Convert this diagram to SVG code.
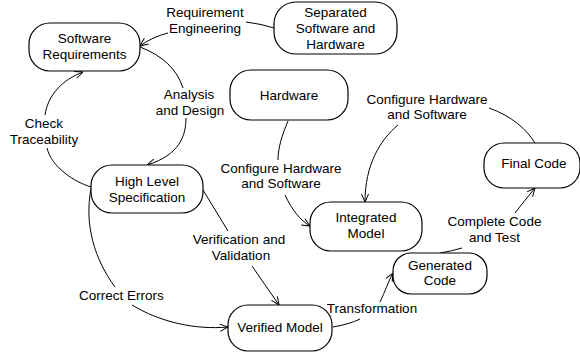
<svg xmlns="http://www.w3.org/2000/svg" width="580" height="353" viewBox="0 0 580 353">
  <style>
    .box { fill: #fff; stroke: #000; stroke-width: 1.2; }
    .lbl { font-family: "Liberation Sans", Arial, sans-serif; font-size: 13.5px; fill: #000; text-anchor: middle; }
    .edge { fill: none; stroke: #000; stroke-width: 1; }
    .arr { marker-end: url(#vhead); }
  </style>
  <defs>
    <marker id="vhead" viewBox="0 0 10 10" refX="10" refY="5" markerUnits="userSpaceOnUse" markerWidth="9" markerHeight="9" orient="auto">
      <path d="M1,1 L10,5 L1,9" fill="none" stroke="#000" stroke-width="1.1"/>
    </marker>
  </defs>
  <rect width="580" height="353" fill="#fff"/>

  <g id="connectors">
    <!-- Requirement Engineering -->
    <path class="edge" d="M274,28 Q262,24 246,22"/>
    <path class="edge arr" d="M168,33 Q152,37 140,46"/>
    <!-- Analysis and Design -->
    <path class="edge" d="M140,47 Q174,60 183,88"/>
    <path class="edge arr" d="M186,118 C186,135 180,155 147,165"/>
    <!-- Check Traceability -->
    <path class="edge" d="M91,187 C75,182 52,168 47,148"/>
    <path class="edge arr" d="M45,115 C48,95 62,80 83,72"/>
    <!-- Configure Hardware and Software (from Hardware) -->
    <path class="edge" d="M288,121 C282,135 278,148 278,160"/>
    <path class="edge arr" d="M285,195 C292,210 300,220 310,226"/>
    <!-- Configure Hardware and Software (from Final Code) -->
    <path class="edge" d="M535,143 C527,130 512,116 489,108"/>
    <path class="edge arr" d="M398,125 C380,140 365,165 365,202"/>
    <!-- Verification and Validation -->
    <path class="edge" d="M203,190 L228,231"/>
    <path class="edge arr" d="M252,266 L279,305"/>
    <!-- Correct Errors -->
    <path class="edge" d="M91,189 C84,225 95,260 115,287"/>
    <path class="edge arr" d="M132,305 C160,322 195,330 228,327"/>
    <!-- Transformation -->
    <path class="edge" d="M333,327 Q350,324 360,319"/>
    <path class="edge arr" d="M380,302 C385,292 388,282 393,273"/>
    <!-- Complete Code and Test -->
    <path class="edge" d="M440,253 Q452,251 462,248"/>
    <path class="edge arr" d="M515,213 Q525,200 535,188"/>
  </g>

  <g id="edge-labels">
    <text class="lbl" x="205" y="17">Requirement</text>
    <text class="lbl" x="205" y="33">Engineering</text>
    <text class="lbl" x="189" y="99">Analysis</text>
    <text class="lbl" x="190" y="115">and Design</text>
    <text class="lbl" x="44" y="128">Check</text>
    <text class="lbl" x="44" y="144">Traceability</text>
    <text class="lbl" x="281" y="173">Configure Hardware</text>
    <text class="lbl" x="281" y="188">and Software</text>
    <text class="lbl" x="427" y="104">Configure Hardware</text>
    <text class="lbl" x="427" y="119">and Software</text>
    <text class="lbl" x="239" y="244">Verification and</text>
    <text class="lbl" x="241" y="260">Validation</text>
    <text class="lbl" x="121.5" y="300">Correct Errors</text>
    <text class="lbl" x="372" y="313">Transformation</text>
    <text class="lbl" x="494.5" y="226">Complete Code</text>
    <text class="lbl" x="494.5" y="242">and Test</text>
  </g>

  <g id="software-requirements">
    <rect class="box" x="29" y="23" width="111" height="48" rx="21" ry="21"/>
    <text class="lbl" x="84.5" y="42.5">Software</text>
    <text class="lbl" x="84.5" y="58.5">Requirements</text>
  </g>
  <g id="separated">
    <rect class="box" x="274" y="2" width="123" height="52" rx="22" ry="22"/>
    <text class="lbl" x="335.5" y="17">Separated</text>
    <text class="lbl" x="335.5" y="33">Software and</text>
    <text class="lbl" x="335.5" y="49">Hardware</text>
  </g>
  <g id="hardware">
    <rect class="box" x="230" y="70" width="118" height="50" rx="21" ry="21"/>
    <text class="lbl" x="289" y="100">Hardware</text>
  </g>
  <g id="high-level-specification">
    <rect class="box" x="91" y="165" width="112" height="48" rx="21" ry="21"/>
    <text class="lbl" x="147" y="186">High Level</text>
    <text class="lbl" x="147" y="201.5">Specification</text>
  </g>
  <g id="final-code">
    <rect class="box" x="484" y="143" width="96" height="45" rx="20" ry="20"/>
    <text class="lbl" x="534" y="167.5">Final Code</text>
  </g>
  <g id="integrated-model">
    <rect class="box" x="310" y="202" width="112" height="49" rx="21" ry="21"/>
    <text class="lbl" x="366" y="222">Integrated</text>
    <text class="lbl" x="366" y="238">Model</text>
  </g>
  <g id="generated-code">
    <rect class="box" x="393" y="253" width="94" height="41" rx="18" ry="18"/>
    <text class="lbl" x="440" y="270">Generated</text>
    <text class="lbl" x="440" y="285">Code</text>
  </g>
  <g id="verified-model">
    <rect class="box" x="228" y="305" width="104" height="46" rx="20" ry="20"/>
    <text class="lbl" x="280" y="332">Verified Model</text>
  </g>
</svg>
